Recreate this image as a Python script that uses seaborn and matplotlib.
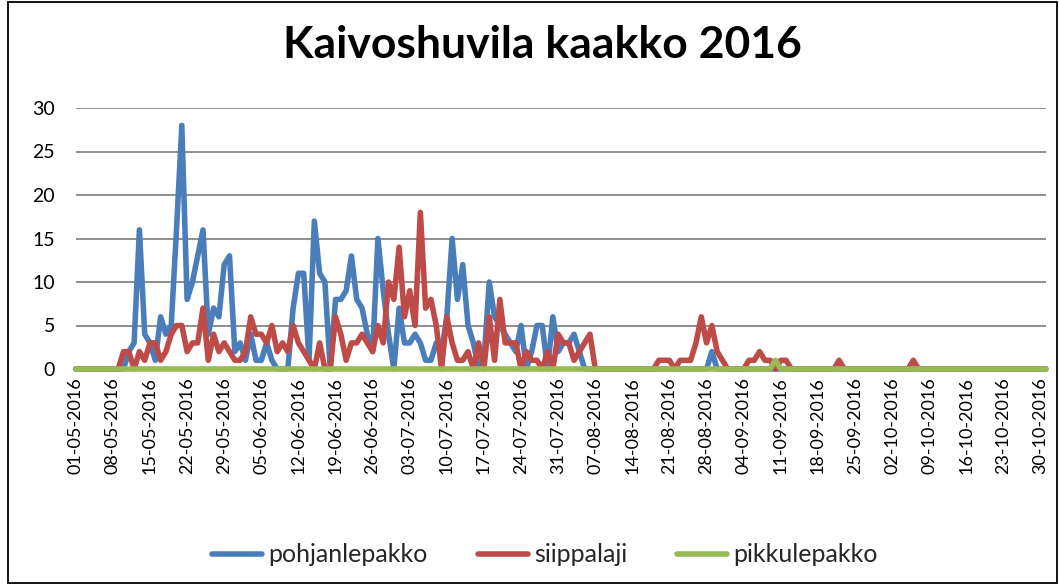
import pandas as pd
import matplotlib
matplotlib.use("Agg")
import matplotlib.pyplot as plt
import matplotlib.dates as mdates
from matplotlib.lines import Line2D
from matplotlib.patches import Rectangle
import seaborn as sns

sns.set_theme(style="white")
plt.rcParams["font.family"] = ["Lato", "DejaVu Sans"]

# Daily bat passes, 1 May - 31 Oct 2016 (one row per week)
dates = pd.date_range("2016-05-01", "2016-10-31", freq="D")
species = ["pohjanlepakko", "siippalaji", "pikkulepakko"]
colors = ["#4A7EBB", "#BE4B48", "#98B954"]

pohjanlepakko = [
    0, 0, 0, 0, 0, 0, 0,
    0, 0, 0, 2, 3, 16, 4,
    3, 1, 6, 4, 5, 16, 28,
    8, 10, 13, 16, 4, 7, 6,
    12, 13, 2, 3, 1, 4, 1,
    1, 3, 1, 0, 0, 0, 7,
    11, 11, 1, 17, 11, 10, 0,
    8, 8, 9, 13, 8, 7, 4,
    2, 15, 9, 4, 0, 7, 3,
    3, 4, 3, 1, 1, 3, 2,
    6, 15, 8, 12, 5, 3, 0,
    1, 10, 6, 5, 4, 3, 2,
    5, 0, 2, 5, 5, 0, 6,
    2, 3, 3, 4, 2, 0, 0,
    0, 0, 0, 0, 0, 0, 0,
    0, 0, 0, 0, 0, 0, 0,
    0, 0, 0, 0, 0, 0, 0,
    0, 2, 0, 0, 0, 0, 0,
    0, 0, 0, 0, 0, 0, 0,
    0, 0, 0, 0, 0, 0, 0,
    0, 0, 0, 0, 0, 0, 0,
    0, 0, 0, 0, 0, 0, 0,
    0, 0, 0, 0, 0, 0, 0,
    0, 0, 0, 0, 0, 0, 0,
    0, 0, 0, 0, 0, 0, 0,
    0, 0, 0, 0, 0, 0, 0,
    0, 0,
]

siippalaji = [
    0, 0, 0, 0, 0, 0, 0,
    0, 0, 2, 2, 0, 2, 1,
    3, 3, 1, 2, 4, 5, 5,
    2, 3, 3, 7, 1, 4, 2,
    3, 2, 1, 1, 2, 6, 4,
    4, 3, 5, 2, 3, 2, 5,
    3, 2, 1, 0, 3, 0, 0,
    6, 4, 1, 3, 3, 4, 3,
    2, 5, 3, 10, 8, 14, 6,
    9, 5, 18, 7, 8, 5, 0,
    6, 3, 1, 1, 2, 0, 3,
    0, 6, 1, 8, 3, 3, 3,
    0, 2, 1, 1, 0, 2, 0,
    4, 3, 3, 1, 2, 3, 4,
    0, 0, 0, 0, 0, 0, 0,
    0, 0, 0, 0, 0, 1, 1,
    1, 0, 1, 1, 1, 3, 6,
    3, 5, 2, 1, 0, 0, 0,
    0, 1, 1, 2, 1, 1, 0,
    1, 1, 0, 0, 0, 0, 0,
    0, 0, 0, 0, 1, 0, 0,
    0, 0, 0, 0, 0, 0, 0,
    0, 0, 0, 0, 1, 0, 0,
    0, 0, 0, 0, 0, 0, 0,
    0, 0, 0, 0, 0, 0, 0,
    0, 0, 0, 0, 0, 0, 0,
    0, 0,
]

pikkulepakko = [
    0, 0, 0, 0, 0, 0, 0,
    0, 0, 0, 0, 0, 0, 0,
    0, 0, 0, 0, 0, 0, 0,
    0, 0, 0, 0, 0, 0, 0,
    0, 0, 0, 0, 0, 0, 0,
    0, 0, 0, 0, 0, 0, 0,
    0, 0, 0, 0, 0, 0, 0,
    0, 0, 0, 0, 0, 0, 0,
    0, 0, 0, 0, 0, 0, 0,
    0, 0, 0, 0, 0, 0, 0,
    0, 0, 0, 0, 0, 0, 0,
    0, 0, 0, 0, 0, 0, 0,
    0, 0, 0, 0, 0, 0, 0,
    0, 0, 0, 0, 0, 0, 0,
    0, 0, 0, 0, 0, 0, 0,
    0, 0, 0, 0, 0, 0, 0,
    0, 0, 0, 0, 0, 0, 0,
    0, 0, 0, 0, 0, 0, 0,
    0, 0, 0, 0, 0, 0, 1,
    0, 0, 0, 0, 0, 0, 0,
    0, 0, 0, 0, 0, 0, 0,
    0, 0, 0, 0, 0, 0, 0,
    0, 0, 0, 0, 0, 0, 0,
    0, 0, 0, 0, 0, 0, 0,
    0, 0, 0, 0, 0, 0, 0,
    0, 0, 0, 0, 0, 0, 0,
    0, 0,
]

wide = pd.DataFrame({"pvm": dates,
                     "pohjanlepakko": pohjanlepakko,
                     "siippalaji": siippalaji,
                     "pikkulepakko": pikkulepakko})
long = wide.melt(id_vars="pvm", var_name="laji", value_name="määrä")

W, H = 1059, 585
LW = 4.0
fig = plt.figure(figsize=(W / 100, H / 100), dpi=100)
ax = fig.add_axes([75.8 / W, 1 - 369 / H, 970 / W, 261 / H])

sns.lineplot(data=long, x="pvm", y="määrä", hue="laji", hue_order=species,
             palette=colors, linewidth=LW, estimator=None, errorbar=None,
             legend=False, ax=ax, zorder=3)
for ln in ax.lines:
    ln.set_solid_joinstyle("round")
    ln.set_solid_capstyle("round")
    ln.set_clip_on(False)

ax.set_xlim(dates[0], dates[-1])
ax.set_ylim(0, 30)
ax.set_yticks(range(0, 31, 5))
ax.set_xticks(pd.date_range("2016-05-01", "2016-10-30", freq="7D"))
ax.xaxis.set_major_formatter(mdates.DateFormatter("%d-%m-%Y"))
ax.tick_params(axis="x", labelrotation=90, labelsize=13, pad=6, length=0,
               colors="black")
ax.tick_params(axis="y", labelsize=14, pad=15, length=0, colors="black")
ax.set_xlabel("")
ax.set_ylabel("")
ax.grid(axis="y", color="#868686", linewidth=1.3)
ax.grid(axis="x", visible=False)
ax.set_axisbelow(True)
for s in ax.spines.values():
    s.set_visible(False)

fig.text(542 / W, 1 - 45 / H, "Kaivoshuvila kaakko 2016", ha="center",
         va="center", fontsize=32, fontweight="bold", color="black")

handles = [Line2D([0], [0], color=c, lw=LW, solid_capstyle="round")
           for c in colors]
fig.legend(handles, species, loc="center", bbox_to_anchor=(545 / W, 1 - 555 / H),
           ncol=3, frameon=False, fontsize=18, handlelength=2.0,
           handletextpad=0.25, columnspacing=2.0)

fig.add_artist(Rectangle((8 / W, 2 / H), (1057 - 8) / W, (583 - 2) / H,
                         transform=fig.transFigure, fill=False,
                         edgecolor="black", linewidth=1.3))

fig.savefig("out.png", dpi=100)
